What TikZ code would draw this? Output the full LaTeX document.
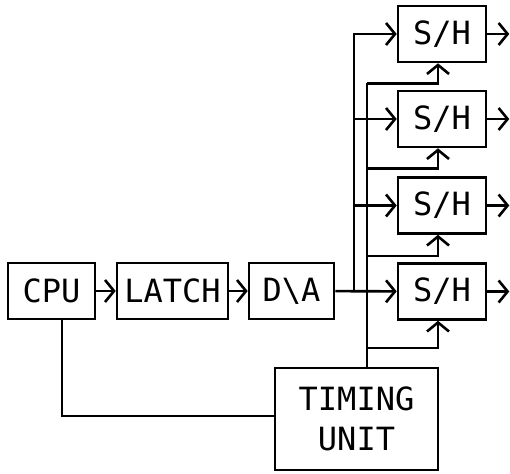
\documentclass[tikz,border=0pt]{standalone}
\usepackage{fontspec}
\setmonofont{DejaVu Sans Mono}
\usetikzlibrary{arrows.meta,positioning,calc}
\tikzset{
  blk/.style={draw, line width=2.6pt, inner sep=2pt,
              font=\ttfamily\fontsize{32}{40}\selectfont,
              minimum height=56pt, align=center},
  shbox/.style={blk, minimum width=88pt},
  sig/.style={line width=2.6pt},
  flow/.style={sig, -{Straight Barb[length=9pt, width=22pt, line width=2.6pt]}},
}

\begin{document}
\begin{tikzpicture}[x=1pt, y=-1pt]
  \useasboundingbox (0,0) rectangle (510,473);
  % processor chain
  \node[blk, minimum width=87pt] (cpu) at (51.5,291) {CPU};
  \node[blk, minimum width=111pt] (latch) at (172.5,291) {LATCH};
  \node[blk, minimum width=85pt] (da) at (291.5,291) {D\textbackslash A};
  % sample and holds
  \node[shbox] (sh1) at (442,34) {S/H};
  \node[shbox] (sh2) at (442,119) {S/H};
  \node[shbox] (sh3) at (442,205.5) {S/H};
  \node[shbox] (sh4) at (442,291.5) {S/H};
  \node[blk, minimum width=163pt, minimum height=102pt] (tu) at (356.5,419)
    {TIMING\\UNIT};
  % bus lines
  \coordinate (busA) at (354,0);
  \coordinate (busB) at (367,0);
  \draw[flow] (cpu) -- (latch);
  \draw[flow] (latch) -- (da);
  \draw[flow] (da) -- (sh4);
  \draw[flow] (busA |- da.east) |- (sh1.west);
  \draw[flow] (busA |- sh2.west) -- (sh2.west);
  \draw[flow] (busA |- sh3.west) -- (sh3.west);
  % clock lines from timing unit
  \coordinate (ck1) at ([yshift=-20pt]sh1.south);
  \coordinate (ck2) at ([yshift=-20pt]sh2.south);
  \coordinate (ck3) at ([yshift=-21pt]sh3.south);
  \coordinate (ck4) at ([yshift=-27pt]sh4.south);
  \draw[sig] (tu.north -| busB) -- (busB |- ck1);
  \foreach \i in {1,...,4}
    \draw[flow] (busB |- ck\i) -| ([xshift=-4pt]sh\i.south);
  % outputs
  \foreach \i in {1,...,4}
    \draw[flow] (sh\i.east) -- ++(22,0);
  \draw[sig] ([xshift=10.5pt]cpu.south) |- ([yshift=3pt]tu.west);
\end{tikzpicture}
\end{document}
